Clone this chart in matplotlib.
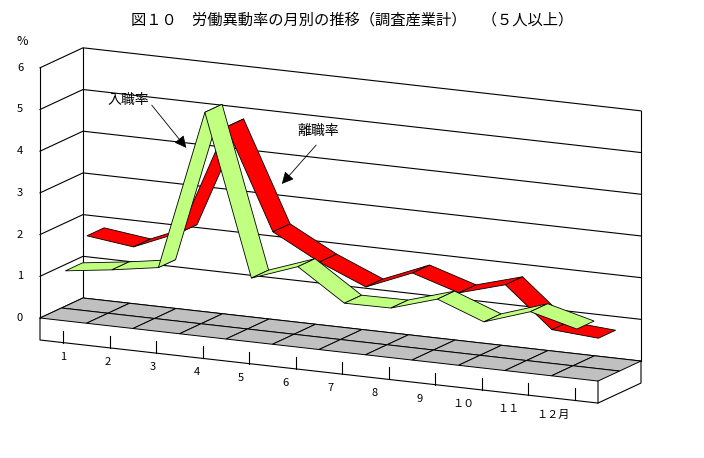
import matplotlib
matplotlib.use("Agg")
import matplotlib.pyplot as plt
from matplotlib.patches import Polygon

plt.rcParams['font.family'] = ['Noto Sans CJK JP', 'DejaVu Sans']

months = list(range(1, 13))
month_labels = ["1", "2", "3", "4", "5", "6", "7", "8", "9", "１０", "１１", "１２月"]
entry_rate = [1.17, 1.32, 1.5, 5.35, 1.5, 1.9, 1.15, 1.16, 1.5, 1.08, 1.45, 1.16]   # 入職率
sep_rate = [1.77, 1.63, 2.1, 4.76, 2.37, 1.77, 1.3, 1.76, 1.41, 1.73, 0.78, 0.7]     # 離職率
y_ticks = [0, 1, 2, 3, 4, 5, 6]

# oblique projection parameters (pixels)
X_LEFT = 83.0
CELL = 46.5
UNIT = 41.7
Y0 = 298.0
SLOPE = 0.113
DX, DY = 43.0, 20.0

def proj(xb, v, d):
    return xb - DX * d, Y0 - UNIT * v + SLOPE * (xb - X_LEFT) + DY * d

def mx(m):
    return X_LEFT + CELL * (m - 0.5)

fig = plt.figure(figsize=(7.04, 4.58), dpi=100)
ax = fig.add_axes([0, 0, 1, 1])
ax.set_xlim(0, 704)
ax.set_ylim(458, 0)
ax.axis('off')

XR = X_LEFT + CELL * 12
lw = 0.8
# back wall gridlines + side wall
for v in y_ticks:
    p1 = proj(X_LEFT, v, 1)
    p2 = proj(X_LEFT, v, 0)
    p3 = proj(XR, v, 0)
    ax.plot([p1[0], p2[0], p3[0]], [p1[1], p2[1], p3[1]], color='black', lw=lw, zorder=1)
    ax.text(p1[0] - 20, p1[1], str(v), ha='center', va='center', fontsize=8)
ax.text(proj(X_LEFT, 6, 1)[0] - 18, proj(X_LEFT, 6, 1)[1] - 26, '%', ha='center', va='center', fontsize=9)
# vertical edges
for xb, d in [(X_LEFT, 1), (X_LEFT, 0), (XR, 0)]:
    top = proj(xb, 6, d); bot = proj(xb, 0, d)
    ax.plot([top[0], bot[0]], [top[1], bot[1]], color='black', lw=lw, zorder=1)

# floor
SLAB = 22
for m in months:
    for d0, d1 in [(0, 0.5), (0.5, 1)]:
        xa, xb2 = X_LEFT + CELL * (m - 1), X_LEFT + CELL * m
        pts = [proj(xa, 0, d0), proj(xb2, 0, d0), proj(xb2, 0, d1), proj(xa, 0, d1)]
        ax.add_patch(Polygon(pts, closed=True, fc='#c0c0c0', ec='black', lw=0.7, zorder=2))
fl = proj(X_LEFT, 0, 1); fr = proj(XR, 0, 1); br = proj(XR, 0, 0)
ax.plot([fl[0], fl[0], fr[0], fr[0]], [fl[1], fl[1] + SLAB, fr[1] + SLAB, fr[1]], color='black', lw=lw, zorder=2)
ax.plot([fr[0], br[0], br[0]], [fr[1] + SLAB, br[1] + SLAB, br[1]], color='black', lw=lw, zorder=2)
for m, lab in zip(months, month_labels):
    p = proj(mx(m), 0, 1)
    ax.plot([p[0], p[0]], [p[1] + SLAB - 12, p[1] + SLAB], color='black', lw=lw, zorder=2)
    ax.text(p[0] - 22 * (m - 1) / 11, p[1] + SLAB + 14, lab, ha='center', va='center', fontsize=8)

def ribbon(vals, d_back, d_front, color, z):
    for i in range(len(vals) - 1):
        a, b = mx(months[i]), mx(months[i + 1])
        pts = [proj(a, vals[i], d_front), proj(b, vals[i + 1], d_front),
               proj(b, vals[i + 1], d_back), proj(a, vals[i], d_back)]
        ax.add_patch(Polygon(pts, closed=True, fc=color, ec='black', lw=0.6, zorder=z + i * 0.01))

ribbon(sep_rate, 0.05, 0.45, '#ff0000', 3)
ribbon(entry_rate, 0.55, 0.95, '#c0ff80', 4)

# annotations
ax.text(128, 100, '入職率', ha='center', va='center', fontsize=10, zorder=6)
ax.annotate('', xy=(188, 150), xytext=(150, 103),
            arrowprops=dict(arrowstyle='-|>', color='black', lw=0.6, mutation_scale=18), zorder=6)
ax.text(318, 131, '離職率', ha='center', va='center', fontsize=10, zorder=6)
ax.annotate('', xy=(280, 186), xytext=(318, 143),
            arrowprops=dict(arrowstyle='-|>', color='black', lw=0.6, mutation_scale=18), zorder=6)

ax.text(352, 20, '図１０　労働異動率の月別の推移（調査産業計）　（５人以上）', ha='center', va='center', fontsize=11)

fig.savefig('out.png', dpi=100)
